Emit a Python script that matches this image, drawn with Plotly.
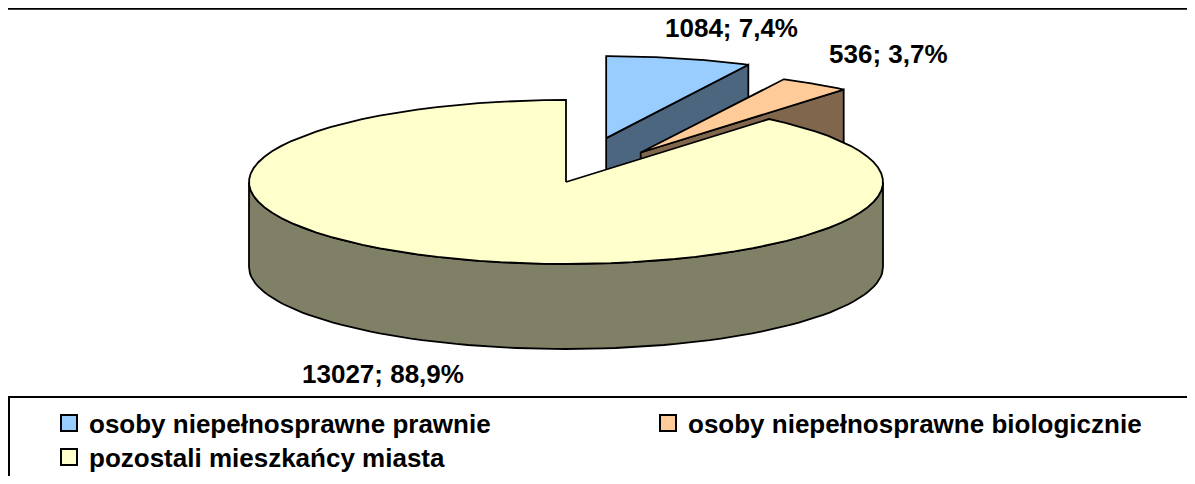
import math
import plotly.graph_objects as go

# ---- data ----
categories = ["osoby niepełnosprawne prawnie",
              "osoby niepełnosprawne biologicznie",
              "pozostali mieszkańcy miasta"]
values = [1084, 536, 13027]
percent_labels = ["7,4%", "3,7%", "88,9%"]

# ---- style ----
top_colors = ["#99CCFF", "#FFCC99", "#FFFFCC"]
side_colors = ["#4D6680", "#80664D", "#808066"]
explode = [0.55, 0.43, 0.0]
W, H = 1195, 484           # browser window
PAD = 8                    # default page body margin
FW, FH = W - 2 * PAD, H - 2 * PAD
CX, CY = 566, 182          # centre of pie (page pixel space)
RX, RY = 317, 82           # ellipse radii
DEPTH = 85                 # pie thickness
LINE = dict(color="black", width=1.8)
FSIZE = 26
FONT = dict(family="Arial, Liberation Sans, sans-serif", size=FSIZE, color="black", weight="bold")
legend_slots = [(49, 423), (648, 423), (49, 457)]   # legend item anchor (page px)

total = sum(values)
fig = go.Figure()


def pt(cx, cy, ang, dz=0.0):
    r = math.radians(ang)
    return cx + RX * math.sin(r), cy - RY * math.cos(r) + dz


def arc(cx, cy, a0, a1, dz=0.0, n=80):
    xs, ys = [], []
    for k in range(n + 1):
        a = a0 + (a1 - a0) * k / n
        x, y = pt(cx, cy, a, dz)
        xs.append(x)
        ys.append(y)
    return xs, ys


def poly(xs, ys, color):
    fig.add_trace(go.Scatter(x=xs, y=ys, fill="toself", fillcolor=color, mode="lines",
                             line=LINE, hoverinfo="skip", showlegend=False))


# slice geometry from data
slices = []
start = 0.0
for i, v in enumerate(values):
    span = 360.0 * v / total
    end = start + span
    mid = (start + end) / 2
    m = math.radians(mid)
    cx = CX + explode[i] * RX * math.sin(m)
    cy = CY - explode[i] * RY * math.cos(m)
    slices.append(dict(i=i, start=start, end=end, mid=mid, cx=cx, cy=cy))
    start = end

# painter's order: back to front
order = sorted(slices, key=lambda s: -math.cos(math.radians(s["mid"])))
for s in order:
    i, a0, a1, cx, cy = s["i"], s["start"], s["end"], s["cx"], s["cy"]
    lo, hi = max(a0, 90.0), min(a1, 270.0)
    if hi > lo:
        tx, ty = arc(cx, cy, lo, hi)
        bx, by = arc(cx, cy, hi, lo, DEPTH)
        poly(tx + bx + [tx[0]], ty + by + [ty[0]], side_colors[i])
    for ang, vis in ((a1, math.sin(math.radians(a1)) > 1e-6),
                     (a0, math.sin(math.radians(a0)) < -1e-6)):
        if vis:
            px, py = pt(cx, cy, ang)
            poly([cx, px, px, cx, cx], [cy, py, py + DEPTH, cy + DEPTH, cy], side_colors[i])
    tx, ty = arc(cx, cy, a0, a1)
    poly([cx] + tx + [cx], [cy] + ty + [cy], top_colors[i])

# data labels, placed just outside each slice
for s in slices:
    m = math.radians(s["mid"])
    sn, cs = math.sin(m), math.cos(m)
    text = f"{values[s['i']]}; {percent_labels[s['i']]}"
    hw = 0.26 * FSIZE * len(text)
    k = 0.45 + 1.4 * abs(sn)
    ex = s["cx"] + RX * sn
    ey = s["cy"] - RY * cs + (DEPTH if cs < 0 else 0)
    lx = ex + (k * hw if sn > 0 else -k * hw)
    ly = ey + (30 if cs < 0 else -30)
    fig.add_annotation(x=lx, y=ly, text=text, showarrow=False, font=FONT,
                       xanchor="center", yanchor="middle")

# legend entries (one legend per entry for exact placement)
leg_names = ["legend", "legend2", "legend3"]
for i, c in enumerate(categories):
    fig.add_trace(go.Scatter(x=[None], y=[None], mode="markers", name=c,
                             legend=leg_names[i],
                             marker=dict(symbol="square", size=17, color=top_colors[i],
                                         line=dict(color="black", width=2))))

fig.add_shape(type="line", x0=0, x1=W + 20, y0=8.5, y1=8.5, line=dict(color="black", width=2.5))
fig.add_shape(type="rect", x0=9, x1=W + 20, y0=397, y1=H + 20, line=dict(color="black", width=2))

legends = {}
for i, (lx, ly) in enumerate(legend_slots):
    legends[leg_names[i]] = dict(x=(lx - PAD) / FW, y=1 - (ly - PAD) / FH,
                                 orientation="h", xanchor="left", yanchor="middle", font=FONT,
                                 bgcolor="rgba(0,0,0,0)", itemclick=False, itemdoubleclick=False)

fig.update_layout(
    width=FW, height=FH, margin=dict(l=0, r=0, t=0, b=0, autoexpand=False),
    paper_bgcolor="white", plot_bgcolor="white",
    xaxis=dict(range=[PAD, PAD + FW], visible=False, fixedrange=True),
    yaxis=dict(range=[PAD + FH, PAD], visible=False, fixedrange=True),
    showlegend=True,
    **legends,
)

fig.write_html("out.html")
